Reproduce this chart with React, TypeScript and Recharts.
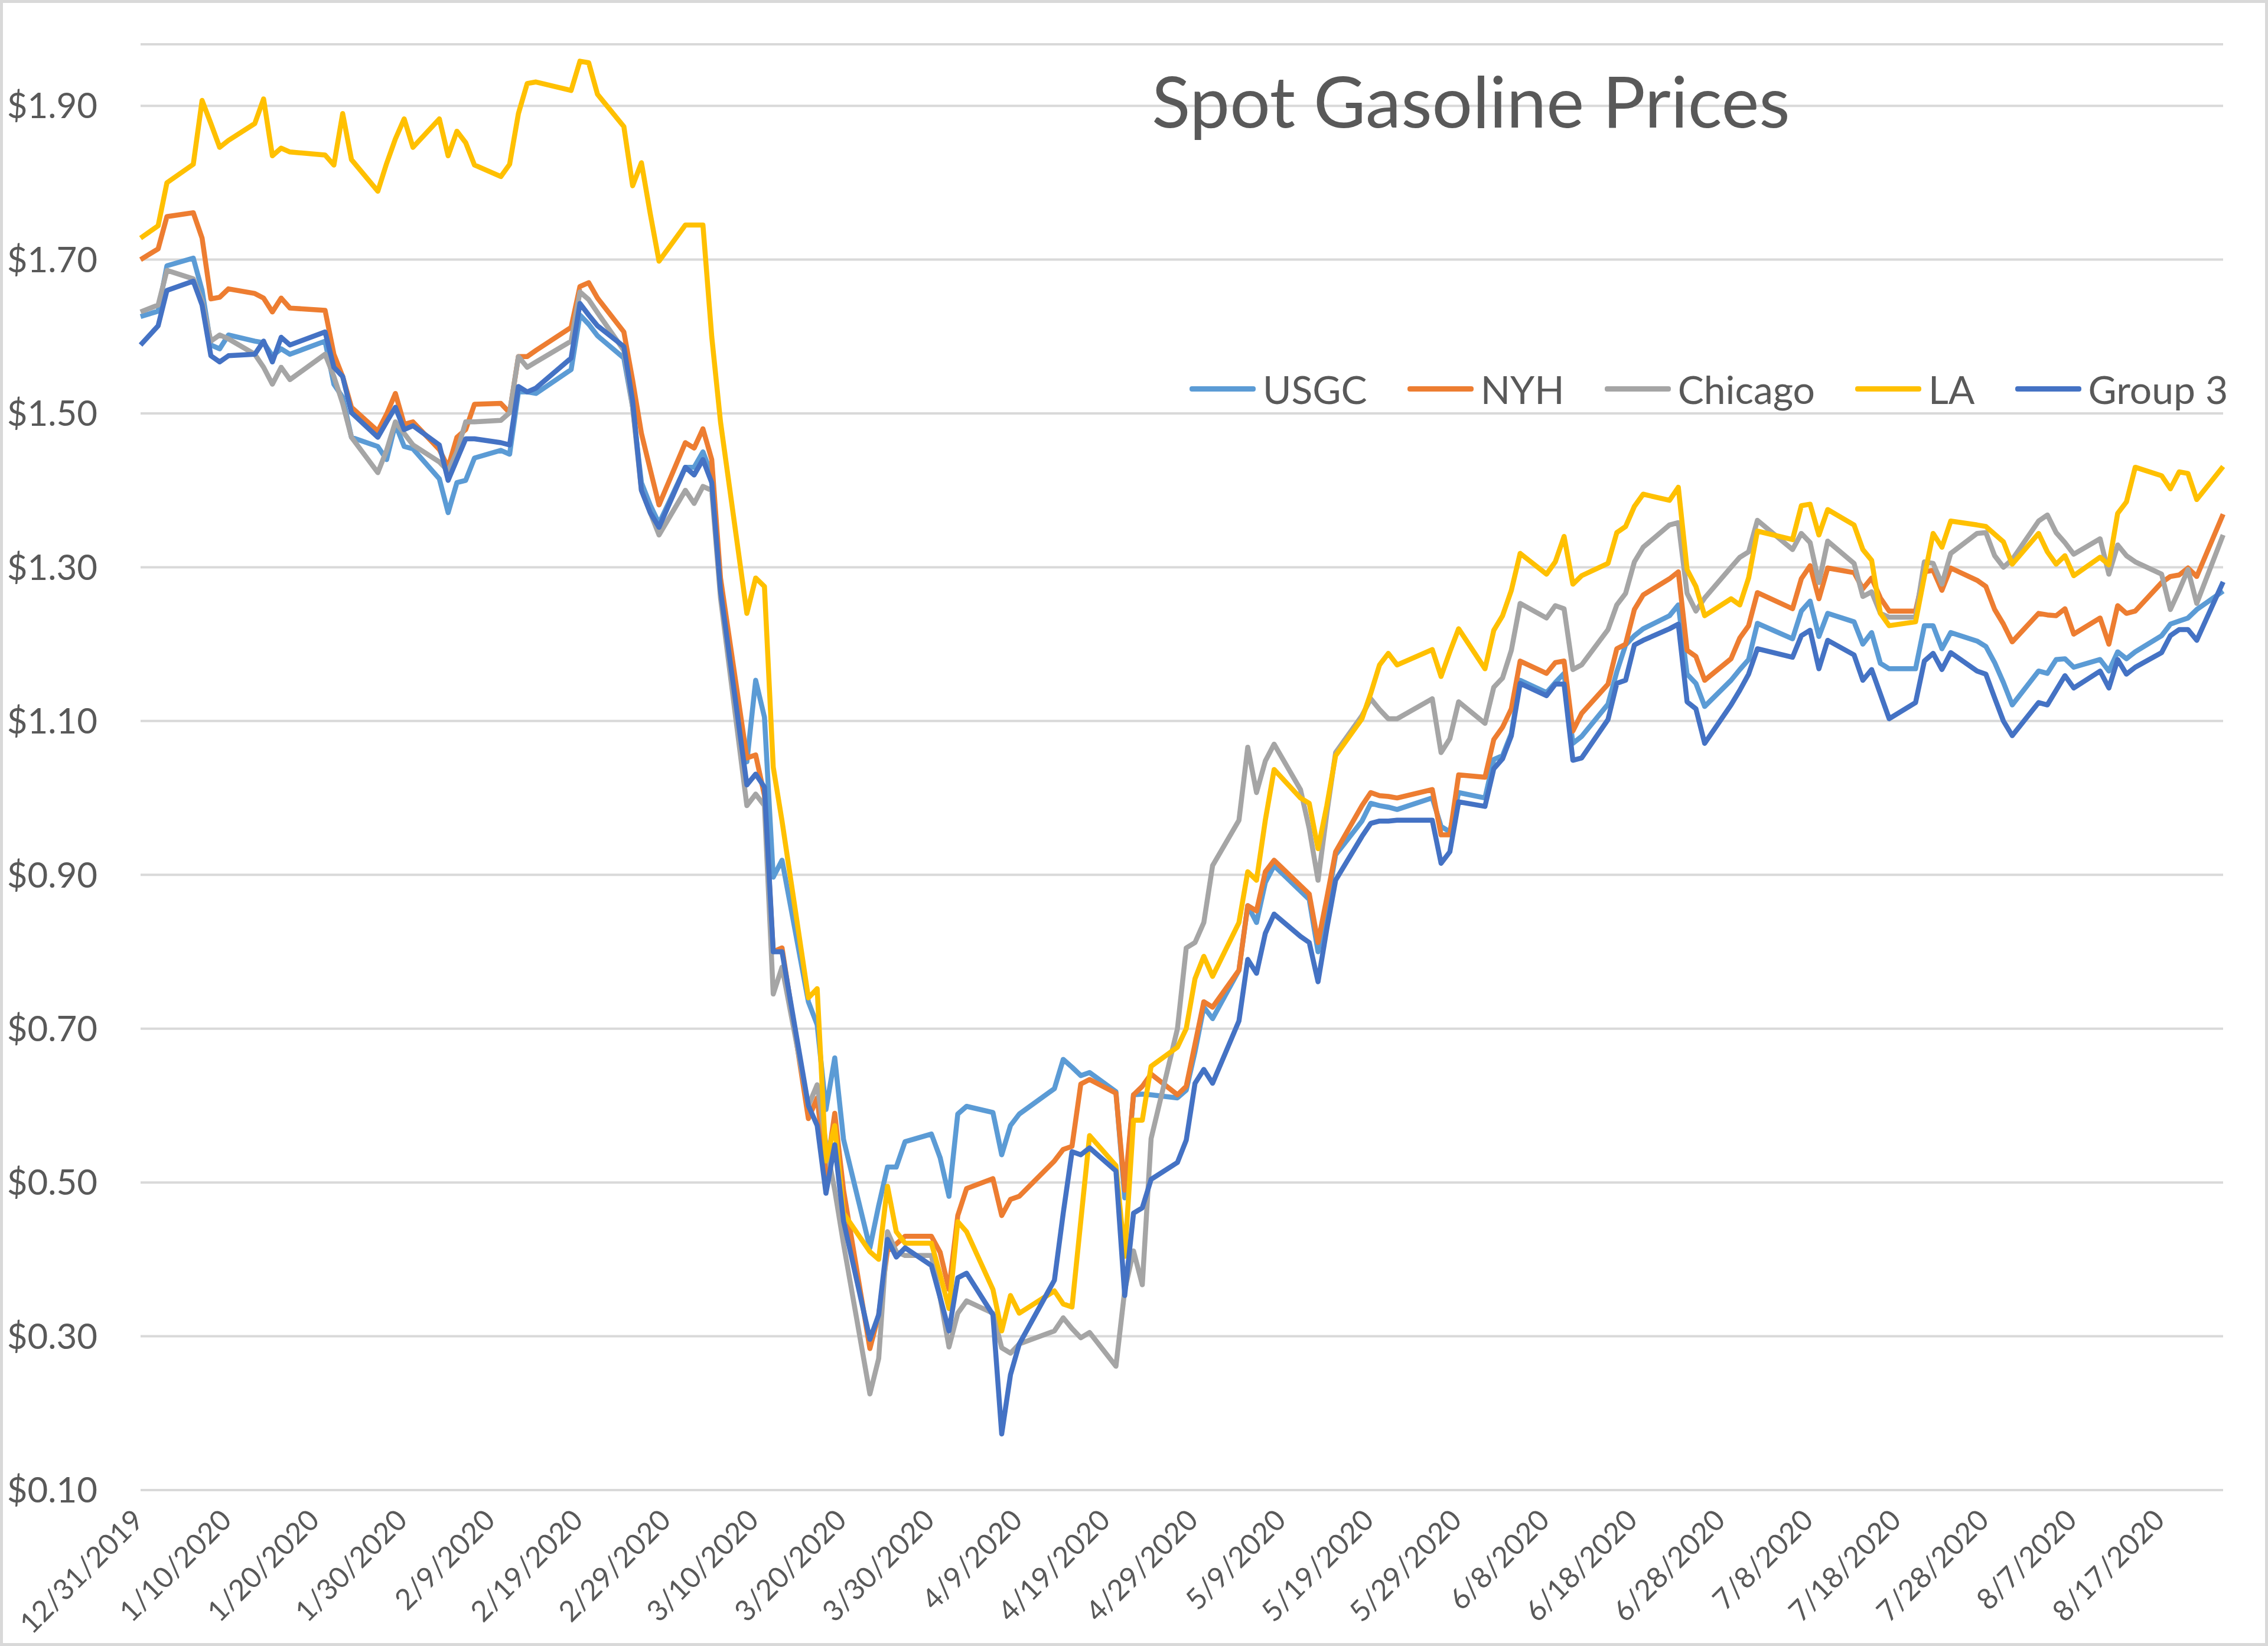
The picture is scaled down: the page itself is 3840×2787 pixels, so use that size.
import { LineChart, Line, XAxis, YAxis, CartesianGrid, Legend } from 'recharts'

// trading days shown on the chart
const dates = [
  '12/31/2019',
  '1/2/2020', '1/3/2020', '1/6/2020', '1/7/2020', '1/8/2020', '1/9/2020', '1/10/2020', '1/13/2020', '1/14/2020', '1/15/2020',
  '1/16/2020', '1/17/2020', '1/21/2020', '1/22/2020', '1/23/2020', '1/24/2020', '1/27/2020', '1/28/2020', '1/29/2020', '1/30/2020', '1/31/2020',
  '2/3/2020', '2/4/2020', '2/5/2020', '2/6/2020', '2/7/2020', '2/10/2020', '2/11/2020', '2/12/2020', '2/13/2020', '2/14/2020',
  '2/18/2020', '2/19/2020', '2/20/2020', '2/21/2020', '2/24/2020', '2/25/2020', '2/26/2020', '2/27/2020', '2/28/2020',
  '3/2/2020', '3/3/2020', '3/4/2020', '3/5/2020', '3/6/2020', '3/9/2020', '3/10/2020', '3/11/2020', '3/12/2020', '3/13/2020',
  '3/16/2020', '3/17/2020', '3/18/2020', '3/19/2020', '3/20/2020', '3/23/2020', '3/24/2020', '3/25/2020', '3/26/2020', '3/27/2020', '3/30/2020', '3/31/2020',
  '4/1/2020', '4/2/2020', '4/3/2020', '4/6/2020', '4/7/2020', '4/8/2020', '4/9/2020', '4/13/2020', '4/14/2020', '4/15/2020', '4/16/2020', '4/17/2020',
  '4/20/2020', '4/21/2020', '4/22/2020', '4/23/2020', '4/24/2020', '4/27/2020', '4/28/2020', '4/29/2020', '4/30/2020',
  '5/1/2020', '5/4/2020', '5/5/2020', '5/6/2020', '5/7/2020', '5/8/2020', '5/11/2020', '5/12/2020', '5/13/2020', '5/14/2020', '5/15/2020',
  '5/18/2020', '5/19/2020', '5/20/2020', '5/21/2020', '5/22/2020', '5/26/2020', '5/27/2020', '5/28/2020', '5/29/2020',
  '6/1/2020', '6/2/2020', '6/3/2020', '6/4/2020', '6/5/2020', '6/8/2020', '6/9/2020', '6/10/2020', '6/11/2020', '6/12/2020',
  '6/15/2020', '6/16/2020', '6/17/2020', '6/18/2020', '6/19/2020', '6/22/2020', '6/23/2020', '6/24/2020', '6/25/2020', '6/26/2020', '6/29/2020', '6/30/2020',
  '7/1/2020', '7/2/2020', '7/6/2020', '7/7/2020', '7/8/2020', '7/9/2020', '7/10/2020', '7/13/2020', '7/14/2020', '7/15/2020', '7/16/2020', '7/17/2020',
  '7/20/2020', '7/21/2020', '7/22/2020', '7/23/2020', '7/24/2020', '7/27/2020', '7/28/2020', '7/29/2020', '7/30/2020', '7/31/2020',
  '8/3/2020', '8/4/2020', '8/5/2020', '8/6/2020', '8/7/2020', '8/10/2020', '8/11/2020', '8/12/2020', '8/13/2020', '8/14/2020',
  '8/17/2020', '8/18/2020', '8/19/2020', '8/20/2020', '8/21/2020', '8/24/2020',
]

const usgc = [
  1.626, 1.633, 1.692, 1.702, 1.66, 1.589, 1.584, 1.602, 1.594, 1.592, 1.575, 1.584, 1.577, 1.594, 1.538, 1.521, 1.469, 1.457, 1.44, 1.486, 1.457, 1.454,
  1.415, 1.371, 1.41, 1.413, 1.442, 1.452, 1.447, 1.528, 1.528, 1.526, 1.557, 1.628, 1.616, 1.601, 1.572, 1.508, 1.41, 1.381, 1.357,
  1.43, 1.43, 1.45, 1.42, 1.277, 1.047, 1.153, 1.105, 0.897, 0.919, 0.735, 0.705, 0.595, 0.662, 0.556, 0.415, 0.47, 0.52, 0.52, 0.553, 0.563, 0.532,
  0.482, 0.589, 0.599, 0.591, 0.536, 0.574, 0.589, 0.622, 0.66, 0.65, 0.639, 0.643, 0.618, 0.48, 0.614, 0.615, 0.614, 0.61, 0.62, 0.67, 0.728,
  0.713, 0.776, 0.86, 0.838, 0.89, 0.912, 0.879, 0.868, 0.8, 0.86, 0.926, 0.97, 0.993, 0.99, 0.988, 0.985, 1.0, 0.963, 0.956, 1.007,
  1.0, 1.05, 1.055, 1.084, 1.153, 1.137, 1.15, 1.162, 1.071, 1.08, 1.122, 1.164, 1.199, 1.211, 1.22, 1.237, 1.251, 1.161, 1.149, 1.119, 1.153, 1.167,
  1.18, 1.227, 1.207, 1.243, 1.256, 1.21, 1.24, 1.229, 1.2, 1.215, 1.175, 1.168, 1.168, 1.224, 1.224, 1.194, 1.215, 1.204, 1.197, 1.176, 1.15, 1.121,
  1.165, 1.162, 1.18, 1.181, 1.17, 1.18, 1.165, 1.19, 1.181, 1.19, 1.211, 1.226, 1.23, 1.234, 1.245, 1.269,
]

const nyh = [
  1.7, 1.714, 1.756, 1.761, 1.728, 1.649, 1.651, 1.662, 1.656, 1.65, 1.632, 1.65, 1.637, 1.634, 1.577, 1.548, 1.508, 1.477, 1.499, 1.526, 1.486, 1.489,
  1.453, 1.43, 1.469, 1.479, 1.512, 1.513, 1.501, 1.574, 1.574, 1.582, 1.612, 1.665, 1.67, 1.65, 1.606, 1.543, 1.474, 1.427, 1.381,
  1.462, 1.455, 1.48, 1.44, 1.286, 1.052, 1.056, 1.003, 0.8, 0.805, 0.583, 0.61, 0.51, 0.59, 0.49, 0.284, 0.328, 0.411, 0.42, 0.43, 0.43, 0.409,
  0.361, 0.457, 0.492, 0.505, 0.457, 0.478, 0.482, 0.528, 0.543, 0.547, 0.628, 0.634, 0.616, 0.49, 0.614, 0.625, 0.641, 0.614, 0.625, 0.68, 0.735,
  0.728, 0.776, 0.86, 0.853, 0.904, 0.919, 0.886, 0.875, 0.812, 0.87, 0.93, 0.99, 1.007, 1.003, 1.002, 1.0, 1.011, 0.952, 0.952, 1.03,
  1.027, 1.076, 1.092, 1.116, 1.178, 1.162, 1.176, 1.178, 1.087, 1.11, 1.148, 1.194, 1.2, 1.245, 1.264, 1.285, 1.294, 1.192, 1.184, 1.153, 1.181, 1.208,
  1.224, 1.267, 1.246, 1.285, 1.302, 1.259, 1.299, 1.293, 1.272, 1.286, 1.26, 1.243, 1.243, 1.294, 1.296, 1.27, 1.299, 1.283, 1.275, 1.245, 1.226, 1.203,
  1.24, 1.238, 1.237, 1.246, 1.213, 1.234, 1.2, 1.25, 1.24, 1.243, 1.28, 1.288, 1.29, 1.299, 1.288, 1.369,
]

const chicago = [
  1.632, 1.641, 1.686, 1.675, 1.646, 1.594, 1.602, 1.597, 1.577, 1.56, 1.538, 1.56, 1.544, 1.577, 1.548, 1.513, 1.469, 1.423, 1.452, 1.489, 1.474, 1.459,
  1.437, 1.425, 1.45, 1.489, 1.489, 1.491, 1.501, 1.574, 1.56, 1.567, 1.594, 1.658, 1.648, 1.631, 1.582, 1.508, 1.4, 1.371, 1.342,
  1.4, 1.383, 1.405, 1.4, 1.26, 0.99, 1.005, 0.99, 0.745, 0.78, 0.6, 0.627, 0.55, 0.49, 0.42, 0.225, 0.271, 0.436, 0.41, 0.405, 0.405, 0.35,
  0.286, 0.33, 0.346, 0.33, 0.285, 0.278, 0.29, 0.307, 0.324, 0.31, 0.298, 0.305, 0.261, 0.36, 0.411, 0.367, 0.557, 0.7, 0.805, 0.812, 0.838,
  0.912, 0.971, 1.066, 1.007, 1.048, 1.07, 1.011, 0.96, 0.893, 0.98, 1.059, 1.107, 1.129, 1.115, 1.103, 1.103, 1.129, 1.059, 1.077, 1.125,
  1.097, 1.144, 1.156, 1.192, 1.253, 1.234, 1.25, 1.246, 1.167, 1.173, 1.219, 1.251, 1.266, 1.307, 1.326, 1.355, 1.358, 1.266, 1.243, 1.26, 1.3, 1.313,
  1.32, 1.361, 1.323, 1.344, 1.332, 1.28, 1.334, 1.305, 1.262, 1.268, 1.24, 1.235, 1.235, 1.307, 1.305, 1.278, 1.318, 1.344, 1.345, 1.315, 1.3, 1.31,
  1.36, 1.368, 1.345, 1.332, 1.317, 1.337, 1.291, 1.329, 1.315, 1.307, 1.291, 1.245, 1.27, 1.297, 1.253, 1.342,
]

const la = [
  1.728, 1.744, 1.8, 1.824, 1.907, 1.877, 1.846, 1.855, 1.877, 1.909, 1.835, 1.845, 1.84, 1.836, 1.823, 1.89, 1.83, 1.789, 1.825, 1.857, 1.883, 1.846,
  1.883, 1.835, 1.867, 1.852, 1.823, 1.808, 1.824, 1.89, 1.929, 1.931, 1.92, 1.958, 1.956, 1.915, 1.873, 1.796, 1.826, 1.76, 1.698,
  1.745, 1.745, 1.745, 1.6, 1.489, 1.24, 1.286, 1.275, 1.04, 0.97, 0.74, 0.752, 0.528, 0.574, 0.46, 0.41, 0.4, 0.495, 0.436, 0.421, 0.421, 0.38,
  0.336, 0.449, 0.436, 0.361, 0.307, 0.353, 0.33, 0.359, 0.342, 0.338, 0.45, 0.561, 0.522, 0.404, 0.581, 0.581, 0.651, 0.676, 0.7, 0.765, 0.794,
  0.768, 0.838, 0.904, 0.893, 0.971, 1.037, 1.0, 0.993, 0.934, 0.99, 1.055, 1.103, 1.136, 1.173, 1.188, 1.173, 1.193, 1.158, 1.19, 1.22,
  1.168, 1.218, 1.237, 1.27, 1.318, 1.291, 1.307, 1.34, 1.278, 1.289, 1.305, 1.345, 1.353, 1.379, 1.395, 1.387, 1.404, 1.297, 1.275, 1.237, 1.259, 1.251,
  1.286, 1.347, 1.336, 1.38, 1.382, 1.342, 1.375, 1.355, 1.323, 1.309, 1.24, 1.224, 1.229, 1.288, 1.344, 1.326, 1.36, 1.355, 1.353, 1.343, 1.333, 1.304,
  1.344, 1.32, 1.304, 1.315, 1.289, 1.313, 1.303, 1.37, 1.385, 1.43, 1.419, 1.402, 1.424, 1.422, 1.388, 1.431,
]

const group3 = [
  1.589, 1.614, 1.66, 1.672, 1.641, 1.575, 1.567, 1.575, 1.577, 1.594, 1.567, 1.599, 1.589, 1.606, 1.56, 1.548, 1.501, 1.469, 1.489, 1.508, 1.479, 1.484,
  1.459, 1.413, 1.44, 1.467, 1.467, 1.462, 1.459, 1.535, 1.528, 1.533, 1.572, 1.643, 1.628, 1.614, 1.587, 1.516, 1.4, 1.371, 1.352,
  1.43, 1.42, 1.44, 1.41, 1.27, 1.017, 1.031, 1.014, 0.8, 0.8, 0.6, 0.574, 0.486, 0.549, 0.45, 0.296, 0.328, 0.426, 0.403, 0.415, 0.392, 0.35,
  0.307, 0.376, 0.382, 0.328, 0.173, 0.25, 0.29, 0.373, 0.46, 0.54, 0.536, 0.545, 0.515, 0.353, 0.46, 0.467, 0.504, 0.526, 0.555, 0.629, 0.647,
  0.629, 0.71, 0.79, 0.772, 0.824, 0.849, 0.82, 0.812, 0.761, 0.83, 0.893, 0.95, 0.967, 0.97, 0.97, 0.971, 0.971, 0.915, 0.93, 0.995,
  0.989, 1.038, 1.051, 1.081, 1.149, 1.133, 1.148, 1.148, 1.049, 1.052, 1.102, 1.149, 1.153, 1.199, 1.205, 1.22, 1.226, 1.125, 1.116, 1.071, 1.121, 1.14,
  1.161, 1.194, 1.183, 1.211, 1.218, 1.168, 1.205, 1.186, 1.153, 1.167, 1.135, 1.103, 1.124, 1.178, 1.188, 1.167, 1.189, 1.165, 1.161, 1.13, 1.1, 1.081,
  1.124, 1.121, 1.14, 1.159, 1.143, 1.165, 1.143, 1.18, 1.161, 1.17, 1.189, 1.211, 1.219, 1.219, 1.205, 1.281,
]

const xTickLabels = [
  '12/31/2019', '1/10/2020', '1/20/2020', '1/30/2020', '2/9/2020', '2/19/2020', '2/29/2020', '3/10/2020',
  '3/20/2020', '3/30/2020', '4/9/2020', '4/19/2020', '4/29/2020', '5/9/2020', '5/19/2020', '5/29/2020',
  '6/8/2020', '6/18/2020', '6/28/2020', '7/8/2020', '7/18/2020', '7/28/2020', '8/7/2020', '8/17/2020',
]
const yTicks = [0.1, 0.3, 0.5, 0.7, 0.9, 1.1, 1.3, 1.5, 1.7, 1.9]

const series = [
  { key: 'usgc', name: 'USGC', color: '#5B9BD5', values: usgc },
  { key: 'nyh', name: 'NYH', color: '#ED7D31', values: nyh },
  { key: 'chicago', name: 'Chicago', color: '#A5A5A5', values: chicago },
  { key: 'la', name: 'LA', color: '#FFC000', values: la },
  { key: 'group3', name: 'Group 3', color: '#4472C4', values: group3 },
]

const DAY = 86400000
const ORIGIN = Date.UTC(2019, 11, 31)
const toDay = (s: string) => {
  const [m, d, y] = s.split('/').map(Number)
  return Math.round((Date.UTC(y, m - 1, d) - ORIGIN) / DAY)
}
const fmtDay = (n: number) => {
  const dt = new Date(ORIGIN + n * DAY)
  return `${dt.getUTCMonth() + 1}/${dt.getUTCDate()}/${dt.getUTCFullYear()}`
}

const data = dates.map((d, i) => {
  const row: Record<string, number> = { day: toDay(d) }
  series.forEach(s => { row[s.key] = s.values[i] })
  return row
})
const xTicks = xTickLabels.map(toDay)

const TEXT = '#595959'
const GRID = '#D9D9D9'

function DateTick({ x, y, payload }: any) {
  const ax = x + 8
  const ay = y + 52
  return (
    <text x={ax} y={ay} transform={`rotate(-45 ${ax} ${ay})`} textAnchor="end"
      fill={TEXT} fontSize={49} fontFamily="Lato, sans-serif">
      {fmtDay(payload.value)}
    </text>
  )
}

function LegendRow() {
  return (
    <div style={{ display: 'flex', alignItems: 'center', height: 80, fontFamily: 'Lato, sans-serif', fontSize: 66, color: TEXT, whiteSpace: 'nowrap' }}>
      {series.map(s => (
        <div key={s.key} style={{ display: 'flex', alignItems: 'center', marginRight: 68 }}>
          <span style={{ display: 'inline-block', width: 112, height: 9, borderRadius: 4, background: s.color, marginRight: 12 }} />
          <span>{s.name}</span>
        </div>
      ))}
    </div>
  )
}

export default function App() {
  return (
    <div style={{ position: 'relative', width: 3840, height: 2787, background: '#fff' }}>
      <style>{'body{margin:0}'}</style>
      <LineChart width={3840} height={2787} data={data} margin={{ top: 75, right: 76, left: 0, bottom: 0 }}>
        <CartesianGrid vertical={false} stroke={GRID} strokeWidth={4} />
        <XAxis
          dataKey="day"
          type="number"
          domain={[data[0].day, data[data.length - 1].day]}
          ticks={xTicks}
          interval={0}
          height={264}
          axisLine={false}
          tickLine={false}
          tickSize={0}
          tick={<DateTick />}
        />
        <YAxis
          type="number"
          domain={[0.1, 1.98]}
          ticks={yTicks}
          interval={0}
          width={238}
          axisLine={false}
          tickLine={false}
          tickSize={0}
          tickMargin={73}
          tickFormatter={(v: number) => `$${v.toFixed(2)}`}
          tick={{ fill: TEXT, fontSize: 60, fontFamily: 'Lato, sans-serif' }}
          allowDataOverflow
        />
        <Legend
          layout="horizontal"
          verticalAlign="middle"
          align="center"
          content={<LegendRow />}
          wrapperStyle={{ left: 2014, top: 618, width: 'auto' }}
        />
        {series.map(s => (
          <Line
            key={s.key}
            type="linear"
            dataKey={s.key}
            name={s.name}
            stroke={s.color}
            strokeWidth={8.5}
            strokeLinejoin="round"
            dot={false}
            activeDot={false}
            isAnimationActive={false}
          />
        ))}
      </LineChart>
      <svg width={3840} height={300} style={{ position: 'absolute', left: 0, top: 0, pointerEvents: 'none' }}>
        <text x={1950} y={216} fill={TEXT} fontSize={121} fontWeight={400} fontFamily="Lato, sans-serif">Spot Gasoline Prices</text>
      </svg>
      <div style={{ position: 'absolute', inset: 0, border: `5px solid ${GRID}`, boxSizing: 'border-box', pointerEvents: 'none' }} />
    </div>
  )
}
